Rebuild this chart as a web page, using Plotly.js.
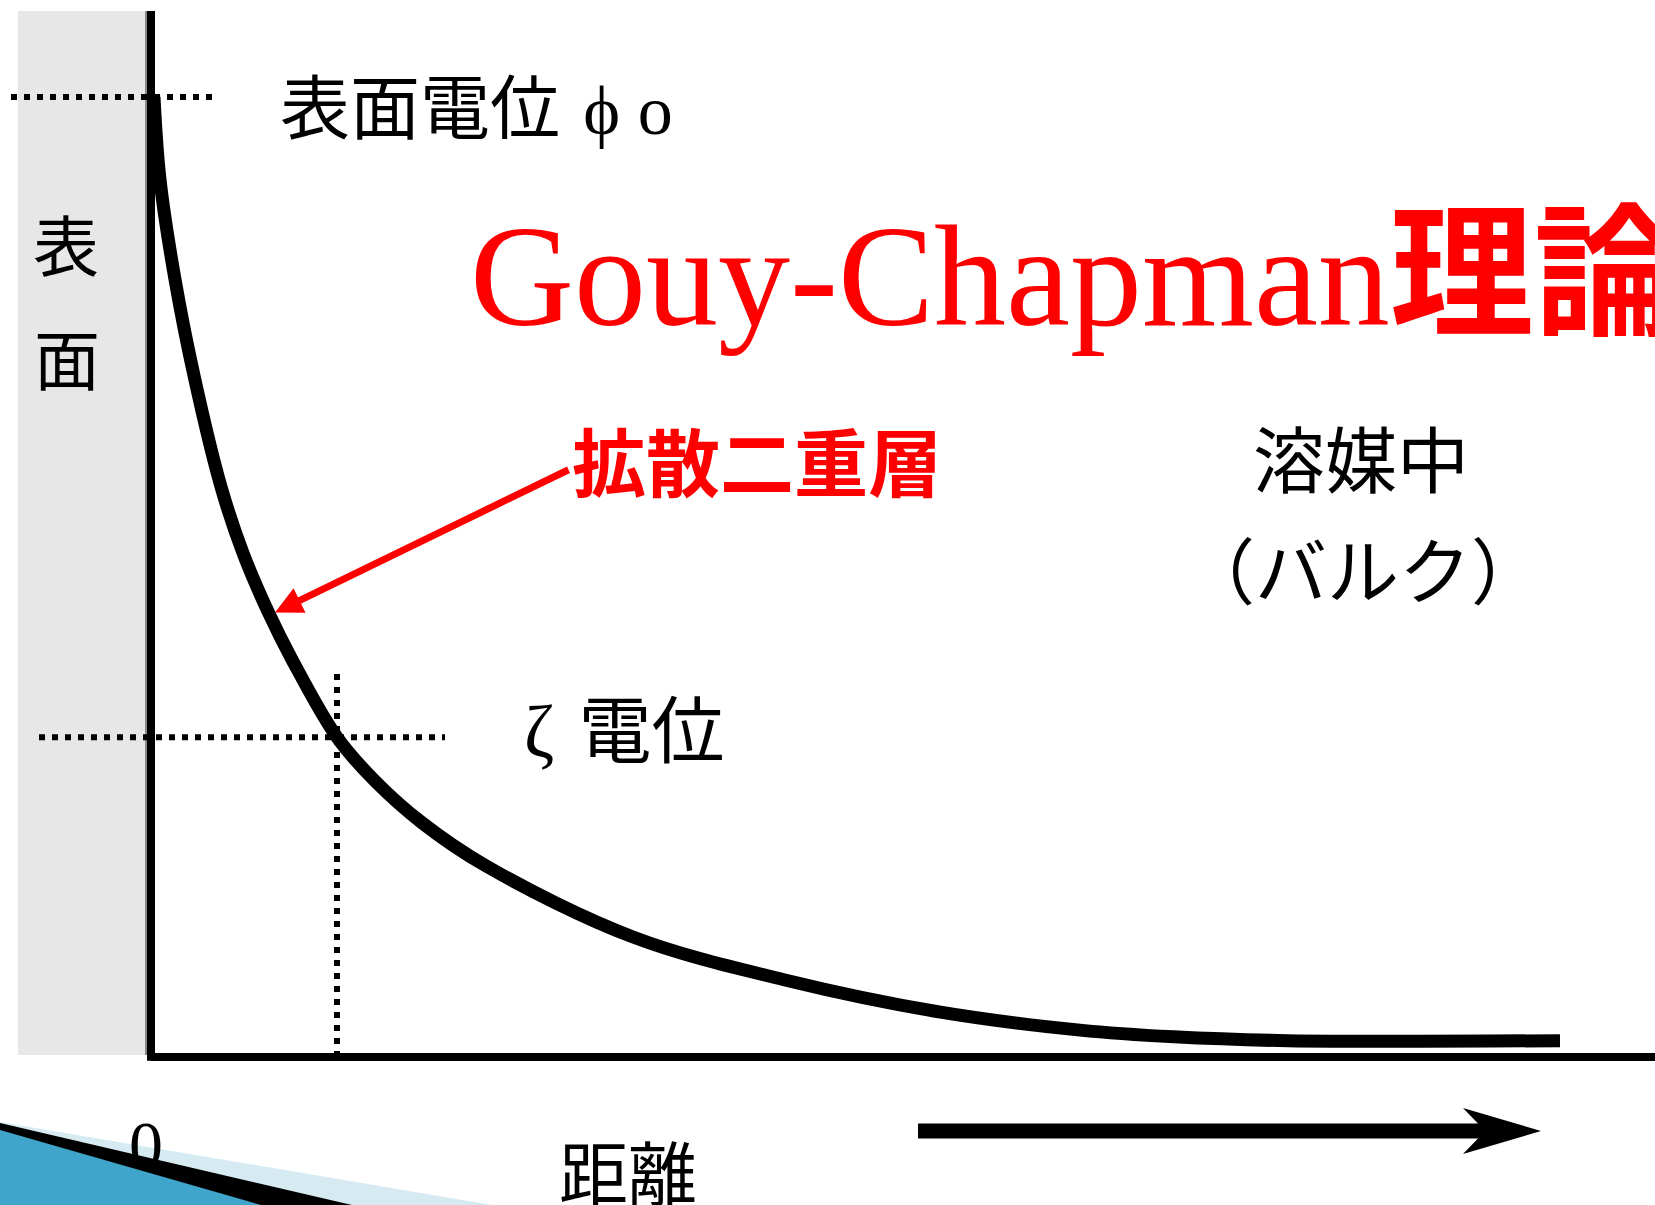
<!DOCTYPE html>
<html>
<head>
<meta charset="utf-8">
<script src="https://cdn.plot.ly/plotly-3.0.1.min.js"></script>
<style>
  html, body { margin: 0; padding: 0; background: #fff; }
  #chart { width: 1655px; height: 1205px; }
</style>
</head>
<body>
<div id="chart"></div>
<script>
// potential curve (distance in arbitrary units, potential / phi0)
var distance  = [0.03, 0.09, 0.24, 0.44, 0.70, 0.92, 1.17, 1.41, 1.86, 2.24, 2.71, 3.35, 4.82, 6.35, 7.88, 9.29, 10.23, 11.37, 14.09];
var potential = [1.000, 0.914, 0.810, 0.705, 0.594, 0.525, 0.464, 0.414, 0.333, 0.2875, 0.244, 0.199, 0.125, 0.080, 0.047, 0.028, 0.021, 0.017, 0.017];

var phi0 = 1.0;          // surface potential level
var zeta = 0.333;        // zeta potential level
var zetaDistance = 1.86; // slipping plane position
var arrowTip = [1.24, 0.463];
var arrowTail = [4.19, 0.6125];

var W = 1655, H = 1205;
function px(v) { return v / W; }
function py(v) { return 1 - v / H; }

var curve = {
    x: distance,
    y: potential,
    type: 'scatter',
    mode: 'lines',
    line: { color: '#000', width: 13, shape: 'spline', smoothing: 1 },
    hoverinfo: 'skip'
};

var serif = 'Liberation Serif, Noto Sans CJK JP, serif';
var cjk = 'Noto Sans CJK JP, sans-serif';

function label(text, x, y, size, opts) {
    var a = {
        text: text,
        xref: 'paper', yref: 'paper',
        x: px(x), y: py(y),
        xanchor: 'center', yanchor: 'middle',
        showarrow: false,
        font: { family: cjk, size: size, color: '#000' }
    };
    for (var k in opts) a[k] = opts[k];
    return a;
}

var dotted = { color: '#000', width: 6, dash: '6px,7px' };

var shapes = [
    // surface (grey band)
    { type: 'rect', xref: 'paper', yref: 'paper', x0: px(18), x1: px(147), y0: py(11), y1: py(1055),
      fillcolor: '#e7e7e7', line: { width: 0 }, layer: 'below' },
    { type: 'line', xref: 'paper', yref: 'paper', x0: px(146), x1: px(146), y0: py(11), y1: py(1055),
      line: { color: '#8a8a8a', width: 2 }, layer: 'below' },
    // reference lines
    { type: 'line', xref: 'x', yref: 'y', x0: -1.40, x1: 0.65, y0: phi0, y1: phi0, line: dotted },
    { type: 'line', xref: 'x', yref: 'y', x0: -1.12, x1: 2.94, y0: zeta, y1: zeta, line: dotted },
    { type: 'line', xref: 'x', yref: 'y', x0: zetaDistance, x1: zetaDistance, y0: 0, y1: 0.40, line: dotted },
    // axes
    { type: 'line', xref: 'x', yref: 'y', x0: 0, x1: 0, y0: -0.004, y1: 1.0896, line: { color: '#000', width: 8 } },
    { type: 'line', xref: 'x', yref: 'y', x0: 0, x1: 15.1, y0: 0, y1: 0, line: { color: '#000', width: 8 } },
    // distance arrow
    { type: 'path', xref: 'paper', yref: 'paper',
      path: 'M' + px(918) + ',' + py(1123.5) + ' L' + px(1478) + ',' + py(1123.5) +
            ' L' + px(1463) + ',' + py(1108) + ' L' + px(1541) + ',' + py(1131) +
            ' L' + px(1463) + ',' + py(1154) + ' L' + px(1478) + ',' + py(1138.5) +
            ' L' + px(918) + ',' + py(1138.5) + ' Z',
      fillcolor: '#000', line: { width: 0 } },
    // slide decoration, bottom left
    { type: 'path', xref: 'paper', yref: 'paper',
      path: 'M0,' + py(1122) + ' L' + px(492) + ',0 L0,0 Z',
      fillcolor: '#d6eaf2', line: { width: 0 } },
    { type: 'path', xref: 'paper', yref: 'paper',
      path: 'M0,' + py(1123) + ' L' + px(352) + ',0 L0,0 Z',
      fillcolor: '#000', line: { width: 0 } },
    { type: 'path', xref: 'paper', yref: 'paper',
      path: 'M0,' + py(1130) + ' L' + px(261) + ',0 L0,0 Z',
      fillcolor: '#3fa5ca', line: { width: 0 } }
];

var annotations = [
    label('表面電位\u00a0\u200aϕ o', 278, 110, 70, { xanchor: 'left', font: { family: serif, size: 70, color: '#000' } }),
    label('表', 66, 242, 66),
    label('面', 67, 356, 66),
    label('Gouy-Chapman<b>理論</b>', 468, 277, 144, { xanchor: 'left', font: { family: serif, size: 144, color: '#ff0000' } }),
    label('<b>拡散二重層</b>', 757, 458, 74, { font: { family: cjk, size: 74, color: '#ff0000' } }),
    label('溶媒中', 1361, 455, 72),
    label('（バルク）', 1363, 566, 72),
    label('ζ\u00a0\u200a電位', 522, 733, 73, { xanchor: 'left', font: { family: serif, size: 73, color: '#000' } }),
    label('0', 146, 1145, 68, { font: { family: serif, size: 68, color: '#000' } }),
    label('距離', 628, 1170, 69),
    {
        x: arrowTip[0], y: arrowTip[1], xref: 'x', yref: 'y',
        ax: arrowTail[0], ay: arrowTail[1], axref: 'x', ayref: 'y',
        text: '', showarrow: true,
        arrowhead: 2, arrowsize: 0.78, arrowwidth: 7, arrowcolor: '#ff0000', standoff: 0
    }
];

var layout = {
    width: W,
    height: H,
    margin: { l: 0, r: 0, t: 0, b: 0 },
    paper_bgcolor: '#fff',
    plot_bgcolor: '#fff',
    showlegend: false,
    xaxis: { range: [-1.51, 15.04], visible: false, fixedrange: true },
    yaxis: { range: [-0.15417, 1.10104], visible: false, fixedrange: true },
    shapes: shapes,
    annotations: annotations
};

Plotly.newPlot('chart', [curve], layout, { staticPlot: true, displayModeBar: false });
</script>
</body>
</html>
